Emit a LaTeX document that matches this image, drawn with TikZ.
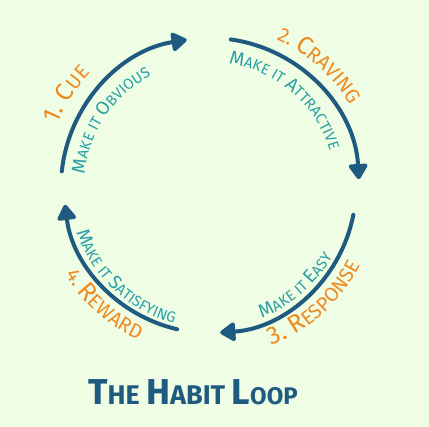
\documentclass[tikz,border=0pt]{standalone}
\usepackage{fontspec}
\newfontfamily\hand{Fira Sans}
\usetikzlibrary{decorations.text,arrows.meta,calc}
\definecolor{bg}{HTML}{F0FDE5}
\definecolor{cblue}{HTML}{1F5A80}
\definecolor{corange}{HTML}{EF8A1F}
\definecolor{cteal}{HTML}{2A9FA6}
\newcommand\oB{\hand\color{corange}\fontsize{25}{25}\selectfont}
\newcommand\oS{\hand\color{corange}\fontsize{20}{20}\selectfont}
\newcommand\tB{\hand\color{cteal}\fontsize{19}{19}\selectfont}
\newcommand\tS{\hand\color{cteal}\fontsize{15}{15}\selectfont}
\begin{document}
\begin{tikzpicture}[x=1pt,y=1pt,
  loop/.style={draw=cblue, line width=4pt, line cap=round,
    -{Triangle[length=17pt,width=21pt,round]}},
  ctext/.style={decorate, decoration={text along path, text align=center, text={#1}}}
]
\fill[bg] (0,0) rectangle (429,427);
\useasboundingbox (0,0) rectangle (429,427);
\coordinate (C) at (210,240);
% arrows
\draw[loop] ($(C)+(174:149)$) arc[start angle=174,end angle=99,radius=149];
\draw[loop] ($(C)+(82:149)$) arc[start angle=82,end angle=3,radius=149];
\draw[loop] ($(C)+(-11:146)$) arc[start angle=-11,end angle=-86,radius=146];
\draw[loop] ($(C)+(-103:146)$) arc[start angle=-103,end angle=-173,radius=146];
% 1. Cue
\path[ctext={|\oB|1. C|\oS|UE}] ($(C)+(177:165)$) arc[start angle=177,end angle=117,radius=165];
\path[ctext={|\tB|M|\tS|AKE IT |\tB|O|\tS|BVIOUS}] ($(C)+(195:126)$) arc[start angle=195,end angle=97,radius=126];
% 2. Craving
\path[ctext={|\oS|2. |\oB|C|\oS|RAVING}] ($(C)+(92:162)$) arc[start angle=92,end angle=4,radius=162];
\path[ctext={|\tB|M|\tS|AKE IT |\tB|A|\tS|TTRACTIVE}] ($(C)+(100:125)$) arc[start angle=100,end angle=-2,radius=125];
% 3. Response
\path[ctext={|\oB|3. R|\oS|ESPONSE}] ($(C)+(-96:170)$) arc[start angle=-96,end angle=0,radius=170];
\path[ctext={|\tB|M|\tS|AKE IT |\tB|E|\tS|ASY}] ($(C)+(-95:141)$) arc[start angle=-95,end angle=-3,radius=141];
% 4. Reward
\path[ctext={|\oS|4. |\oB|R|\oS|EWARD}] ($(C)+(185:169)$) arc[start angle=185,end angle=271,radius=169];
\path[ctext={|\tB|M|\tS|AKE IT |\tB|S|\tS|ATISFYING}] ($(C)+(176:141)$) arc[start angle=176,end angle=278,radius=141];
% title
\node[text=cblue, font=\hand\bfseries, anchor=base] (title) at (193,22)
  {\fontsize{36}{36}\selectfont T\fontsize{27}{27}\selectfont HE \fontsize{36}{36}\selectfont H\fontsize{27}{27}\selectfont ABIT \fontsize{36}{36}\selectfont L\fontsize{24}{24}\selectfont OOP};
\end{tikzpicture}
\end{document}
